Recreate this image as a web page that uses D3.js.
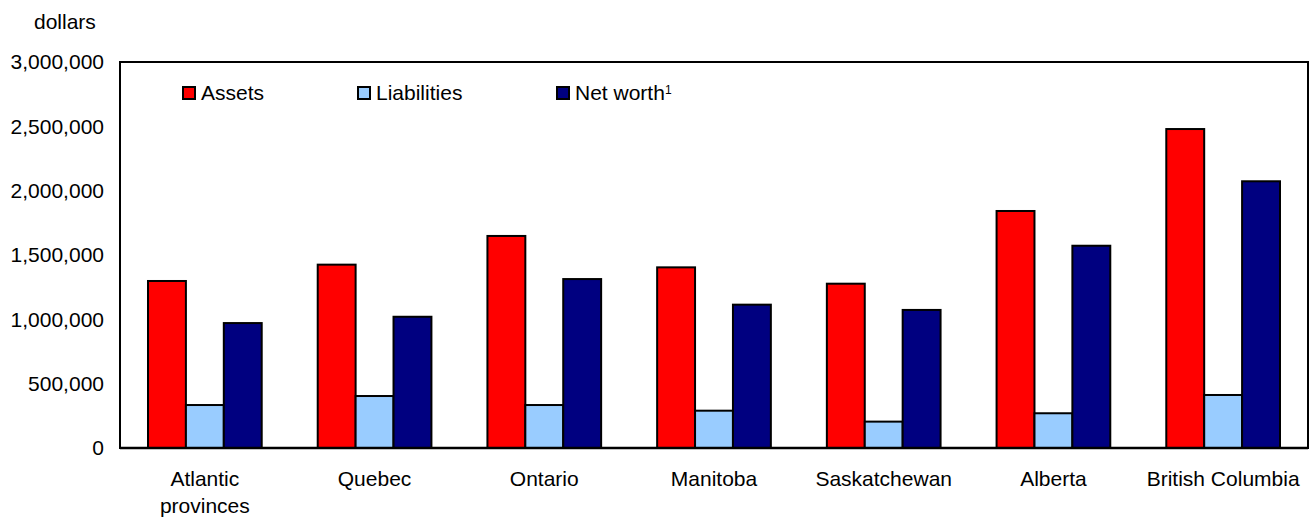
<!DOCTYPE html>
<html><head><meta charset="utf-8">
<script src="https://cdn.jsdelivr.net/npm/d3@7"></script>
<style>body{margin:0;background:#fff}text{font-family:"Liberation Sans",Arial,sans-serif;fill:#000}</style>
</head><body><svg id="c" width="1310" height="517"></svg>
<script>
const categories = [["Atlantic","provinces"],["Quebec"],["Ontario"],["Manitoba"],["Saskatchewan"],["Alberta"],["British Columbia"]];
const seriesNames = ["Assets","Liabilities","Net worth"];
const assets = [1298000,1425000,1648000,1404000,1277000,1842000,2479000];
const liabilities = [334000,404000,334000,290000,205000,270000,412000];
const netWorth = [971000,1020000,1313000,1114000,1073000,1572000,2073000];
const yTicks = [0,500000,1000000,1500000,2000000,2500000,3000000];
const colors = ["#ff0000","#99ccff","#000080"];
const FS = 21;

const svg = d3.select("#c");
const L=120,R=1308,T=62,B=448;
const x = d3.scaleBand().domain(d3.range(categories.length)).range([L,R]).padding(0);
const y = d3.scaleLinear().domain([0,3000000]).range([B,T]);
const values=[assets,liabilities,netWorth];
const gw = x.bandwidth()*0.67;
const xs = d3.scaleBand().domain([0,1,2]).range([-gw/2,gw/2]).padding(0);

svg.append("rect").attr("x",L).attr("y",T).attr("width",R-L).attr("height",B-T).attr("fill","none").attr("stroke","#000").attr("stroke-width",2);

categories.forEach((c,i)=>{
  const cx = x(i)+x.bandwidth()/2;
  values.forEach((s,j)=>{
    svg.append("rect").attr("x",cx+xs(j)).attr("y",y(s[i])).attr("width",xs.bandwidth()).attr("height",B-y(s[i]))
      .attr("fill",colors[j]).attr("stroke","#000").attr("stroke-width",2);
  });
});
svg.append("line").attr("x1",L).attr("x2",R).attr("y1",B).attr("y2",B).attr("stroke","#000").attr("stroke-width",2.5);

const ya = svg.append("g").attr("transform",`translate(${L},0)`).call(d3.axisLeft(y).tickValues(yTicks).tickSize(0).tickPadding(16).tickFormat(d3.format(",")));
ya.select(".domain").remove();
ya.selectAll("text").attr("font-size",FS).style("font-family",'"Liberation Sans",Arial,sans-serif');

svg.append("text").attr("x",34).attr("y",29).attr("font-size",FS).text("dollars");

categories.forEach((c,i)=>{
  const cx = x(i)+x.bandwidth()/2;
  c.forEach((line,k)=>{
    svg.append("text").attr("x",cx).attr("y",486+k*27).attr("text-anchor","middle").attr("font-size",FS).text(line);
  });
});

const lx=[183,358,557];
seriesNames.forEach((n,j)=>{
  svg.append("rect").attr("x",lx[j]).attr("y",87).attr("width",12).attr("height",12).attr("fill",colors[j]).attr("stroke","#000").attr("stroke-width",2);
  const t = svg.append("text").attr("x",lx[j]+18).attr("y",100).attr("font-size",FS).text(n);
  if(j===2) t.append("tspan").attr("font-size",12).attr("dy",-6).text("1");
});
</script></body></html>
